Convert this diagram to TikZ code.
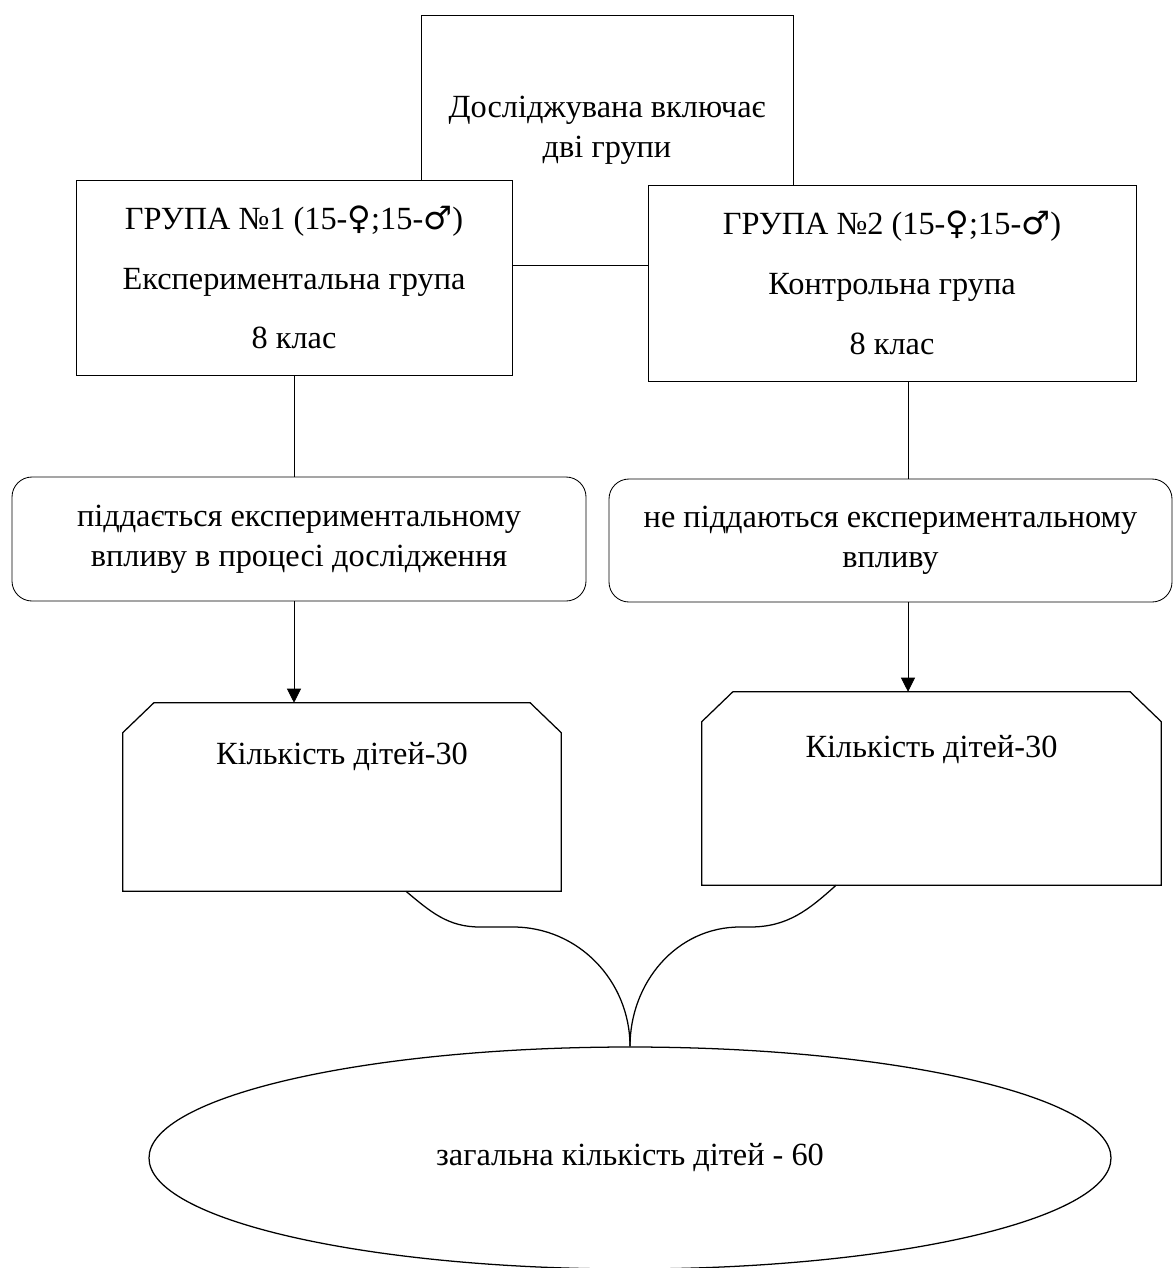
\documentclass[tikz,border=0pt]{standalone}
\usepackage{fontspec}
\setmainfont{Liberation Serif}
\newfontfamily\gendfont{DejaVu Sans}
\usetikzlibrary{shapes.geometric,arrows.meta}
\newcommand{\fem}{{\gendfont ♀}}
\newcommand{\mal}{{\gendfont ♂}}
\begin{document}
\begin{tikzpicture}[font=\fontsize{23}{28.5}\selectfont,
  box/.style={draw, line width=0.6pt, fill=white, align=center, inner sep=0pt},
  cbox/.style={fill=white, inner sep=0pt},
  arr/.style={-{Triangle[length=10pt,width=10pt]}, line width=0.6pt},
  curve/.style={line width=0.9pt}]
\useasboundingbox (0,0) rectangle (29.35,-31.7);
\node[box, minimum width=9.3cm, minimum height=6.25cm, label={[anchor=center,yshift=0.25cm,align=center]center:Досліджувана включає\\дві групи}] (top) at (15.175,-3.5) {};
\node[box, minimum width=10.9cm, minimum height=4.875cm] (g1) at (7.35,-6.9375) {ГРУПА №1 (15-\fem;15-\mal)\\[14pt]Експериментальна група\\[14pt]8 клас};
\node[box, minimum width=12.2cm, minimum height=4.9cm] (g2) at (22.3,-7.075) {ГРУПА №2 (15-\fem;15-\mal)\\[14pt]Контрольна група\\[14pt]8 клас};
\node[box, rounded corners=0.5cm, minimum width=14.35cm, minimum height=3.1cm] (r1) at (7.475,-13.475) {піддається експериментальному\\впливу в процесі дослідження};
\node[box, rounded corners=0.5cm, minimum width=14.075cm, minimum height=3.075cm] (r2) at (22.2625,-13.5125) {не піддаються експериментальному\\впливу};
\node[cbox, minimum width=10.95cm, minimum height=4.7cm, label={[anchor=center,yshift=-1.35cm]north:Кількість дітей-30}] (k1) at (8.55,-19.925) {};
\node[cbox, minimum width=11.475cm, minimum height=4.825cm, label={[anchor=center,yshift=-1.45cm]north:Кількість дітей-30}] (k2) at (23.2875,-19.7125) {};
\draw[curve] (k1.south west) -- ([yshift=-0.75cm]k1.north west) -- ([xshift=0.78cm]k1.north west) -- ([xshift=-0.78cm]k1.north east) -- ([yshift=-0.75cm]k1.north east) -- (k1.south east) -- cycle;
\draw[curve] (k2.south west) -- ([yshift=-0.75cm]k2.north west) -- ([xshift=0.78cm]k2.north west) -- ([xshift=-0.78cm]k2.north east) -- ([yshift=-0.75cm]k2.north east) -- (k2.south east) -- cycle;
\node[draw, ellipse, line width=0.9pt, minimum width=24.05cm, minimum height=5.55cm] (all) at (15.75,-28.95) {загальна кількість дітей - 60};
\coordinate (c2) at ([xshift=0.4cm]g2.south);
\coordinate (l1) at (12,-23.175);
\coordinate (l2) at (12.825,-23.175);
\coordinate (q1) at (18.75,-23.175);
\coordinate (q2) at (18.5,-23.175);
\draw[line width=0.6pt] (g1.south) -- (g1.south |- r1.north);
\draw[line width=0.6pt] (c2) -- (c2 |- r2.north);
\draw[arr] (r1.south -| g1.south) -- (k1.north -| g1.south);
\draw[arr] (r2.south -| c2) -- (k2.north -| c2);
\draw[curve] ([xshift=1.6cm]k1.south) to[out=-40,in=180] (l1) -- (l2) to[out=0,in=90] (all.north);
\draw[curve] ([xshift=-2.3875cm]k2.south) to[out=-138,in=0] (q1) -- (q2) to[out=180,in=90] (all.north);
\end{tikzpicture}
\end{document}
